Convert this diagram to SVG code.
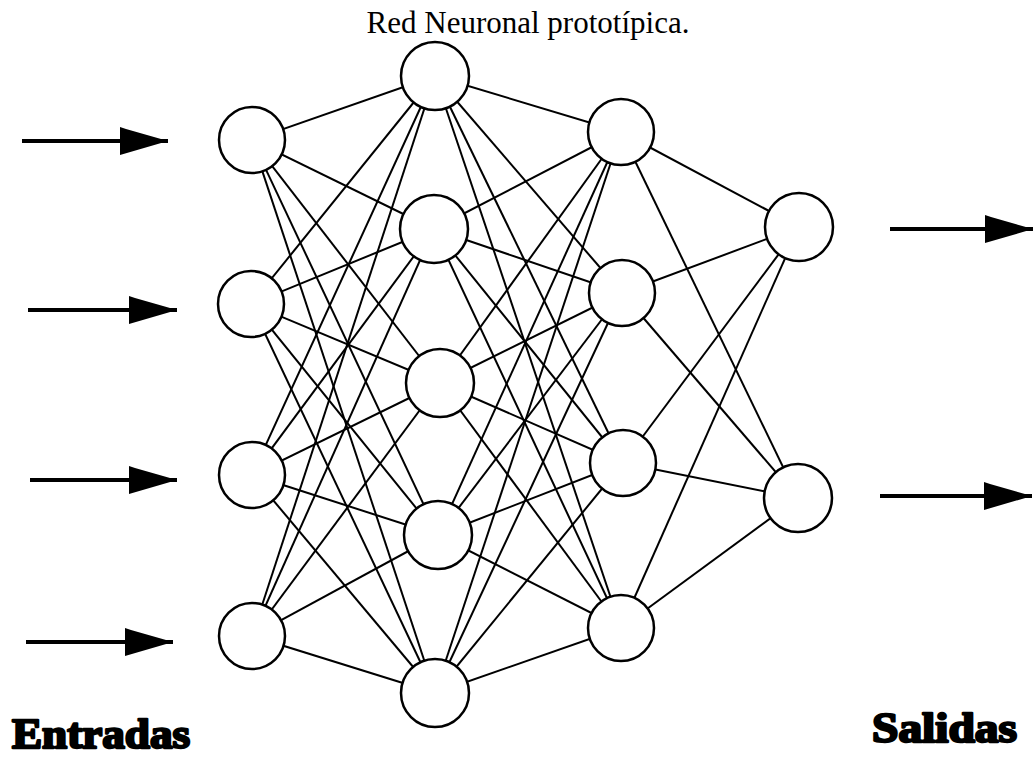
<svg xmlns="http://www.w3.org/2000/svg" width="1034" height="757" viewBox="0 0 1034 757">
<style>
.edge{stroke:#000;stroke-width:2;fill:none}
.node{fill:#fff;stroke:#000;stroke-width:2.5}
.arrow{stroke:#000;stroke-width:4;fill:none}
.title{font-family:"Liberation Serif","Times New Roman",serif;font-size:31px;fill:#000}
.label{font-family:"Liberation Serif","Times New Roman",serif;font-weight:bold;font-size:42px;fill:#000;stroke:#000;stroke-width:2.4;stroke-linejoin:round}
</style>
<defs>
<marker id="head" markerUnits="userSpaceOnUse" markerWidth="48" markerHeight="28" refX="48" refY="14" orient="auto" viewBox="0 0 48 28">
<path d="M0,0 L6,2 L48,14 L0,28 Z" fill="#000"/>
</marker>
</defs>
<rect width="1034" height="757" fill="#fff"/>
<text class="title" x="528" y="33" text-anchor="middle">Red Neuronal prototípica.</text>
<g id="connectors">
<!-- input -> hidden1 -->
<line class="edge" x1="252" y1="140" x2="435" y2="76"/>
<line class="edge" x1="252" y1="140" x2="434" y2="229"/>
<line class="edge" x1="252" y1="140" x2="440" y2="383"/>
<line class="edge" x1="252" y1="140" x2="438" y2="535"/>
<line class="edge" x1="252" y1="140" x2="435" y2="693"/>
<line class="edge" x1="251" y1="304" x2="435" y2="76"/>
<line class="edge" x1="251" y1="304" x2="434" y2="229"/>
<line class="edge" x1="251" y1="304" x2="440" y2="383"/>
<line class="edge" x1="251" y1="304" x2="438" y2="535"/>
<line class="edge" x1="251" y1="304" x2="435" y2="693"/>
<line class="edge" x1="252" y1="475" x2="435" y2="76"/>
<line class="edge" x1="252" y1="475" x2="434" y2="229"/>
<line class="edge" x1="252" y1="475" x2="440" y2="383"/>
<line class="edge" x1="252" y1="475" x2="438" y2="535"/>
<line class="edge" x1="252" y1="475" x2="435" y2="693"/>
<line class="edge" x1="252" y1="636" x2="435" y2="76"/>
<line class="edge" x1="252" y1="636" x2="434" y2="229"/>
<line class="edge" x1="252" y1="636" x2="440" y2="383"/>
<line class="edge" x1="252" y1="636" x2="438" y2="535"/>
<line class="edge" x1="252" y1="636" x2="435" y2="693"/>
<!-- hidden1 -> hidden2 -->
<line class="edge" x1="435" y1="76" x2="621" y2="132"/>
<line class="edge" x1="435" y1="76" x2="622" y2="293"/>
<line class="edge" x1="435" y1="76" x2="623" y2="463"/>
<line class="edge" x1="435" y1="76" x2="621" y2="628"/>
<line class="edge" x1="434" y1="229" x2="621" y2="132"/>
<line class="edge" x1="434" y1="229" x2="622" y2="293"/>
<line class="edge" x1="434" y1="229" x2="623" y2="463"/>
<line class="edge" x1="434" y1="229" x2="621" y2="628"/>
<line class="edge" x1="440" y1="383" x2="621" y2="132"/>
<line class="edge" x1="440" y1="383" x2="622" y2="293"/>
<line class="edge" x1="440" y1="383" x2="623" y2="463"/>
<line class="edge" x1="440" y1="383" x2="621" y2="628"/>
<line class="edge" x1="438" y1="535" x2="621" y2="132"/>
<line class="edge" x1="438" y1="535" x2="622" y2="293"/>
<line class="edge" x1="438" y1="535" x2="623" y2="463"/>
<line class="edge" x1="438" y1="535" x2="621" y2="628"/>
<line class="edge" x1="435" y1="693" x2="621" y2="132"/>
<line class="edge" x1="435" y1="693" x2="622" y2="293"/>
<line class="edge" x1="435" y1="693" x2="623" y2="463"/>
<line class="edge" x1="435" y1="693" x2="621" y2="628"/>
<!-- hidden2 -> output -->
<line class="edge" x1="621" y1="132" x2="799" y2="227"/>
<line class="edge" x1="621" y1="132" x2="798" y2="498"/>
<line class="edge" x1="622" y1="293" x2="799" y2="227"/>
<line class="edge" x1="622" y1="293" x2="798" y2="498"/>
<line class="edge" x1="623" y1="463" x2="799" y2="227"/>
<line class="edge" x1="623" y1="463" x2="798" y2="498"/>
<line class="edge" x1="621" y1="628" x2="799" y2="227"/>
<line class="edge" x1="621" y1="628" x2="798" y2="498"/>
<!-- input/output arrows -->
<line class="arrow" x1="22" y1="141" x2="168" y2="141" marker-end="url(#head)"/>
<line class="arrow" x1="28" y1="310" x2="177" y2="310" marker-end="url(#head)"/>
<line class="arrow" x1="30" y1="480" x2="177" y2="480" marker-end="url(#head)"/>
<line class="arrow" x1="26" y1="642" x2="173" y2="642" marker-end="url(#head)"/>
<line class="arrow" x1="890" y1="229" x2="1033" y2="229" marker-end="url(#head)"/>
<line class="arrow" x1="880" y1="496" x2="1032" y2="496" marker-end="url(#head)"/>
</g>
<g id="in1"><circle class="node" cx="252" cy="140" r="33"/></g>
<g id="in2"><circle class="node" cx="251" cy="304" r="33"/></g>
<g id="in3"><circle class="node" cx="252" cy="475" r="33"/></g>
<g id="in4"><circle class="node" cx="252" cy="636" r="33"/></g>
<g id="h1"><circle class="node" cx="435" cy="76" r="34"/></g>
<g id="h2"><circle class="node" cx="434" cy="229" r="34"/></g>
<g id="h3"><circle class="node" cx="440" cy="383" r="34"/></g>
<g id="h4"><circle class="node" cx="438" cy="535" r="34"/></g>
<g id="h5"><circle class="node" cx="435" cy="693" r="34"/></g>
<g id="k1"><circle class="node" cx="621" cy="132" r="33"/></g>
<g id="k2"><circle class="node" cx="622" cy="293" r="33"/></g>
<g id="k3"><circle class="node" cx="623" cy="463" r="33"/></g>
<g id="k4"><circle class="node" cx="621" cy="628" r="33"/></g>
<g id="out1"><circle class="node" cx="799" cy="227" r="34"/></g>
<g id="out2"><circle class="node" cx="798" cy="498" r="34"/></g>
<g id="labels">
<text class="label" x="12" y="748" textLength="178" lengthAdjust="spacingAndGlyphs">Entradas</text>
<text class="label" x="872" y="742" textLength="145" lengthAdjust="spacingAndGlyphs">Salidas</text>
</g>
</svg>
